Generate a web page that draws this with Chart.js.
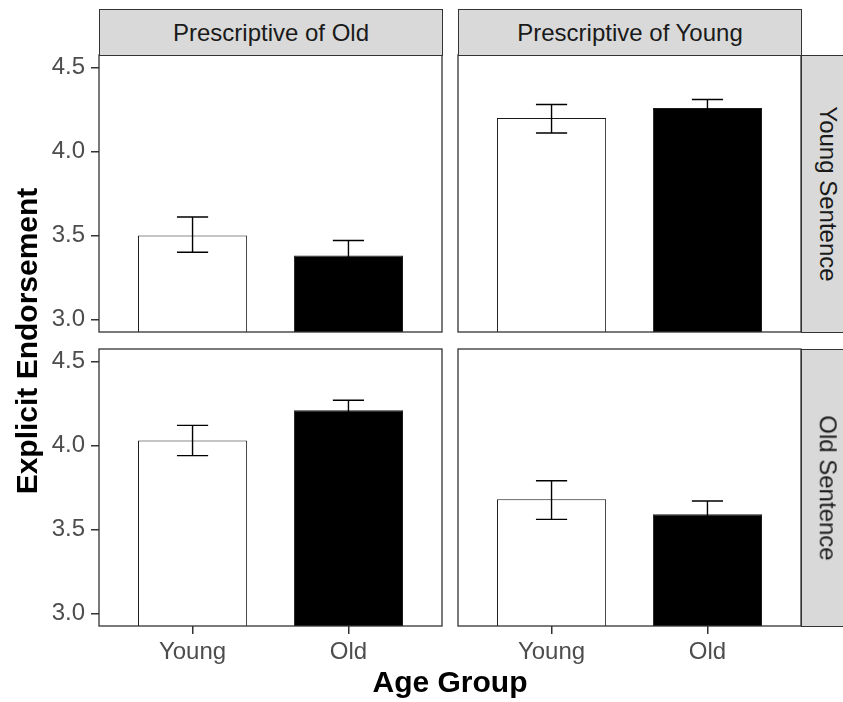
<!DOCTYPE html>
<html>
<head>
<meta charset="utf-8">
<script src="https://cdn.jsdelivr.net/npm/chart.js@4/dist/chart.umd.min.js"></script>
<style>
  html, body { margin: 0; padding: 0; background: #fff; }
  #wrap { position: relative; width: 843px; height: 702px; overflow: hidden; font-family: 'Liberation Sans', Arial, sans-serif; }
  canvas { position: absolute; }
  .strip { position: absolute; box-sizing: border-box; background: #d9d9d9; border: 1px solid #333;
           display: flex; align-items: center; justify-content: center; color: #1a1a1a; font-size: 24px; white-space: nowrap; }
  .strip span.v { transform: rotate(90deg); }
  .title { position: absolute; font-weight: bold; font-size: 30px; line-height: 30px; color: #000; text-align: center; white-space: nowrap; }
</style>
</head>
<body>
<div id="wrap">
  <canvas id="pOldYS" width="445" height="281" style="left:0;top:53px"></canvas>
  <canvas id="pYoungYS" width="349" height="281" style="left:455px;top:53px"></canvas>
  <canvas id="pOldOS" width="445" height="330" style="left:0;top:347px"></canvas>
  <canvas id="pYoungOS" width="349" height="330" style="left:455px;top:347px"></canvas>

  <div class="strip" style="left:99px;top:9px;width:344px;height:47px">Prescriptive of Old</div>
  <div class="strip" style="left:458px;top:9px;width:344px;height:47px">Prescriptive of Young</div>
  <div class="strip" style="left:801px;top:55px;width:54px;height:278px"><span class="v">Young Sentence</span></div>
  <div class="strip" style="left:801px;top:349px;width:54px;height:278px"><span class="v">Old Sentence</span></div>

  <div class="title" style="left:99px;top:667px;width:702px">Age Group</div>
  <div class="title" style="left:-173px;top:326px;width:400px;transform:rotate(-90deg)">Explicit Endorsement</div>
</div>

<script>
// x categories and y ticks
const ageGroups = ['Young', 'Old'];
const yTicks = [3.0, 3.5, 4.0, 4.5];

// Young Sentence row: means and error bar ends, [Young group, Old group]
const ysPrescOldMean = [3.50, 3.38];
const ysPrescOldLo = [3.40, 3.29];
const ysPrescOldHi = [3.61, 3.47];
const ysPrescYoungMean = [4.20, 4.26];
const ysPrescYoungLo = [4.11, 4.22];
const ysPrescYoungHi = [4.28, 4.31];

// Old Sentence row
const osPrescOldMean = [4.03, 4.21];
const osPrescOldLo = [3.94, 4.15];
const osPrescOldHi = [4.12, 4.27];
const osPrescYoungMean = [3.68, 3.59];
const osPrescYoungLo = [3.56, 3.51];
const osPrescYoungHi = [3.79, 3.67];

Chart.defaults.font.family = "'Liberation Sans', Arial, sans-serif";

// error bars + panel border
const errorBars = {
  id: 'errorBars',
  afterDatasetsDraw(chart, args, opts) {
    const xs = chart.scales.x, ys = chart.scales.y, ctx = chart.ctx;
    const half = xs.getPixelForValue(1.1) - xs.getPixelForValue(1);
    ctx.save();
    ctx.strokeStyle = '#000';
    ctx.lineWidth = 1.4;
    opts.lo.forEach((lo, i) => {
      const x = xs.getPixelForValue(i + 1);
      const yl = ys.getPixelForValue(lo), yh = ys.getPixelForValue(opts.hi[i]);
      ctx.beginPath();
      ctx.moveTo(x, yl); ctx.lineTo(x, yh);
      ctx.moveTo(x - half, yl); ctx.lineTo(x + half, yl);
      ctx.moveTo(x - half, yh); ctx.lineTo(x + half, yh);
      ctx.stroke();
    });
    ctx.restore();
  },
  afterDraw(chart) {
    const a = chart.chartArea, ctx = chart.ctx;
    ctx.save();
    ctx.strokeStyle = '#333';
    ctx.lineWidth = 1.3;
    ctx.strokeRect(a.left, a.top, a.right - a.left, a.bottom - a.top);
    ctx.restore();
  }
};

const tickGrid = { drawOnChartArea: false, drawTicks: true, tickLength: 8, color: '#333', lineWidth: 1.5, offset: false };
const tickFont = { color: '#4d4d4d', font: { size: 24 } };

function panel(id, means, lo, hi, showY, showX) {
  return new Chart(document.getElementById(id), {
    type: 'bar',
    data: {
      datasets: [{
        data: means.map((m, i) => ({ x: i + 1, y: m })),
        backgroundColor: ['#ffffff', '#000000'],
        borderColor: '#1a1a1a',
        borderWidth: 1,
        barPercentage: 0.7,
        categoryPercentage: 1
      }]
    },
    options: {
      responsive: false,
      animation: false,
      layout: { padding: { top: 2, right: 3, bottom: showX ? 0 : 2, left: showY ? 0 : 3 } },
      plugins: { legend: { display: false }, tooltip: { enabled: false }, errorBars: { lo, hi } },
      scales: {
        x: {
          type: 'linear', min: 0.4, max: 2.6, offset: false, display: showX,
          afterBuildTicks: s => { s.ticks = ageGroups.map((g, i) => ({ value: i + 1 })); },
          afterFit: showX ? s => { s.height = 51; s.paddingLeft = 0; s.paddingRight = 0; } : undefined,
          grid: tickGrid, border: { display: false },
          ticks: { ...tickFont, padding: 4, callback: v => ageGroups[v - 1] }
        },
        y: {
          min: 2.925, max: 4.575, display: showY,
          afterBuildTicks: s => { s.ticks = yTicks.map(v => ({ value: v })); },
          afterFit: showY ? s => { s.width = 99; s.paddingTop = 0; s.paddingBottom = 0; } : undefined,
          grid: tickGrid, border: { display: false },
          ticks: { ...tickFont, padding: 6, callback: v => v.toFixed(1) }
        }
      }
    },
    plugins: [errorBars]
  });
}

panel('pOldYS', ysPrescOldMean, ysPrescOldLo, ysPrescOldHi, true, false);
panel('pYoungYS', ysPrescYoungMean, ysPrescYoungLo, ysPrescYoungHi, false, false);
panel('pOldOS', osPrescOldMean, osPrescOldLo, osPrescOldHi, true, true);
panel('pYoungOS', osPrescYoungMean, osPrescYoungLo, osPrescYoungHi, false, true);
</script>
</body>
</html>
